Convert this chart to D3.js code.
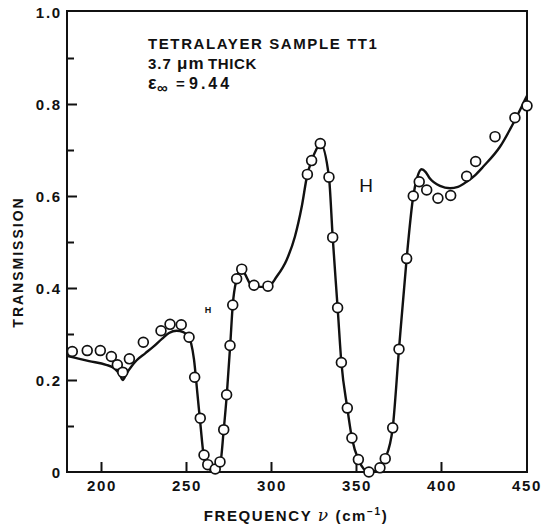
<!DOCTYPE html>
<html>
<head>
<meta charset="utf-8">
<script src="https://cdn.jsdelivr.net/npm/d3@7"></script>
<style>
  html, body { margin: 0; padding: 0; background: #fff; }
  svg { display: block; }
  text { font-family: "Liberation Sans", Arial, sans-serif; fill: #111; }
</style>
</head>
<body>
<svg id="chart" width="547" height="527"></svg>
<script>
// Measured transmission of the tetralayer sample (open circles)
const measFreq = [183.1, 191.9, 199.6, 206.1, 209.6, 212.8, 216.7, 224.9, 235.3, 240.6,
  247.2, 251.8, 255.1, 258.4, 260.6, 262.8, 267.2, 270.0, 272.2, 273.9,
  275.9, 277.5, 279.8, 282.8, 290.0, 298.2, 321.4, 323.9, 329.0, 334.1,
  336.3, 339.2, 341.4, 344.9, 347.6, 351.4, 357.6, 364.1, 367.2, 371.6,
  375.3, 379.8, 383.7, 387.2, 391.6, 398.2, 405.7, 415.1, 420.4, 431.8,
  443.5, 450.6];
const measTrans = [0.262, 0.264, 0.264, 0.251, 0.233, 0.217, 0.246, 0.282, 0.307, 0.321,
  0.320, 0.293, 0.206, 0.117, 0.037, 0.016, 0.0065, 0.022, 0.092, 0.168,
  0.275, 0.363, 0.420, 0.441, 0.406, 0.404, 0.647, 0.677, 0.714, 0.641,
  0.510, 0.357, 0.238, 0.139, 0.074, 0.027, 0.000, 0.009, 0.029, 0.096,
  0.267, 0.464, 0.600, 0.631, 0.613, 0.595, 0.601, 0.643, 0.675, 0.729,
  0.770, 0.796];

// Calculated transmission (solid curve)
const calcFreq = [180.5, 185, 193, 203, 208, 211, 212.8, 215, 218, 221,
  226, 231, 236, 240, 244.5, 248.4, 251, 253, 254.7, 256.7,
  258.6, 260.2, 262.2, 266, 270, 272.2, 274, 276, 277.5, 279.8,
  282.4, 284.5, 287.6, 290, 298, 303.4, 309.2, 314.1, 318.1, 321.4,
  323.9, 326.5, 329, 334.1, 336.3, 339.2, 341.4, 344.9, 347.6, 351.4,
  357.6, 364.1, 367.2, 371.6, 375.3, 379.8, 383.7, 386, 388.6, 391,
  393.5, 399.4, 405.3, 410, 415.1, 420, 424.9, 434.7, 443.5, 449.4, 450.6];
const calcTrans = [0.252, 0.248, 0.241, 0.233, 0.225, 0.212, 0.200, 0.214, 0.230, 0.243,
  0.258, 0.273, 0.290, 0.302, 0.307, 0.304, 0.296, 0.280, 0.245, 0.171,
  0.099, 0.041, 0.012, 0.003, 0.015, 0.092, 0.168, 0.275, 0.363, 0.420,
  0.443, 0.432, 0.410, 0.403, 0.402, 0.425, 0.461, 0.512, 0.577, 0.647,
  0.677, 0.700, 0.714, 0.641, 0.510, 0.357, 0.238, 0.139, 0.074, 0.027,
  0.000, 0.009, 0.029, 0.096, 0.267, 0.464, 0.600, 0.640, 0.658, 0.652,
  0.638, 0.622, 0.617, 0.620, 0.631, 0.645, 0.664, 0.707, 0.765, 0.809, 0.818];

const xTickValues = [200, 250, 300, 350, 400, 450];
const yMajorTicks = [0, 0.2, 0.4, 0.6, 0.8, 1.0];
const yMinorTicks = [0.1, 0.3, 0.5, 0.7, 0.9];
const yTickLabels = ["0", "0.2", "0.4", "0.6", "0.8", "1.0"];

const svg = d3.select("#chart");
const plotLeft = 67, plotRight = 527, plotTop = 12, plotBottom = 472;

const x = d3.scaleLinear().domain([180, 450.6]).range([plotLeft, plotRight]);
const y = d3.scaleLinear().domain([0, 1]).range([plotBottom, plotTop]);

// Frame
svg.append("rect")
  .attr("x", plotLeft).attr("y", plotTop - 1)
  .attr("width", plotRight - plotLeft).attr("height", plotBottom - plotTop + 1)
  .attr("fill", "none").attr("stroke", "#111").attr("stroke-width", 2);

// Bottom axis: inward ticks, labels below
const xAxis = d3.axisBottom(x).tickValues(xTickValues.filter(v => v < 450))
  .tickSize(-10).tickFormat(d3.format("d"));
const gx = svg.append("g").attr("transform", `translate(0,${plotBottom})`).call(xAxis);
gx.select(".domain").remove();
gx.selectAll(".tick line").attr("stroke", "#111").attr("stroke-width", 2);
gx.selectAll(".tick text").remove();
svg.append("g").selectAll("text").data(xTickValues).join("text")
  .attr("x", d => x(d) + 1)
  .attr("y", 491)
  .attr("text-anchor", "middle")
  .attr("font-size", 15).attr("font-weight", "bold").attr("letter-spacing", 1.6)
  .text(d => d);

// Left axis: major and minor inward ticks
const yAxisMajor = d3.axisLeft(y).tickValues(yMajorTicks.filter(v => v > 0 && v < 1))
  .tickSize(-10).tickFormat("");
const gy = svg.append("g").attr("transform", `translate(${plotLeft},0)`).call(yAxisMajor);
gy.select(".domain").remove();
gy.selectAll(".tick line").attr("stroke", "#111").attr("stroke-width", 2);
const yAxisMinor = d3.axisLeft(y).tickValues(yMinorTicks).tickSize(-7).tickFormat("");
const gym = svg.append("g").attr("transform", `translate(${plotLeft},0)`).call(yAxisMinor);
gym.select(".domain").remove();
gym.selectAll(".tick line").attr("stroke", "#111").attr("stroke-width", 2);

svg.append("g").selectAll("text").data(yMajorTicks).join("text")
  .attr("x", 62)
  .attr("y", d => y(d) + 5.5)
  .attr("text-anchor", "end")
  .attr("font-size", 15).attr("font-weight", "bold").attr("letter-spacing", 1.8)
  .text((d, i) => yTickLabels[i]);

// Axis titles
svg.append("text")
  .attr("transform", "translate(23,262) rotate(-90)")
  .attr("text-anchor", "middle")
  .attr("font-size", 14).attr("font-weight", "bold").attr("letter-spacing", 2)
  .text("TRANSMISSION");

const xt = svg.append("text")
  .attr("x", 296).attr("y", 521)
  .attr("text-anchor", "middle")
  .attr("font-size", 15).attr("font-weight", "bold").attr("letter-spacing", 1.6);
xt.append("tspan").text("FREQUENCY ");
xt.append("tspan").attr("font-style", "italic").attr("font-family", "DejaVu Serif").attr("font-weight", "normal").attr("font-size", 17).text("ν");
xt.append("tspan").text("  (cm");
xt.append("tspan").attr("font-size", 10).attr("dy", -6).text("−1");
xt.append("tspan").attr("dy", 6).text(")");

// Sample annotation
const note = svg.append("g").attr("font-size", 15).attr("font-weight", "bold");
note.append("text").attr("x", 148).attr("y", 49).attr("letter-spacing", 1.6)
  .text("TETRALAYER SAMPLE TT1");
const thick = note.append("text").attr("y", 69).attr("letter-spacing", 1);
thick.append("tspan").attr("x", 148).text("3.7");
thick.append("tspan").attr("x", 177).attr("font-size", 17).text("μm");
thick.append("tspan").attr("x", 208).attr("letter-spacing", 0.6).text("THICK");
const eps = note.append("text").attr("y", 89).attr("letter-spacing", 1);
eps.append("tspan").attr("x", 148).attr("font-size", 18).text("ε");
eps.append("tspan").attr("x", 157).attr("font-size", 15).attr("dy", 4).text("∞");
eps.append("tspan").attr("x", 176).attr("dy", -4).text("=");
eps.append("tspan").attr("x", 189).attr("font-size", 16).attr("letter-spacing", 3).text("9.44");

// Error bar markers
svg.append("text").attr("x", 208).attr("y", 313).attr("text-anchor", "middle")
  .attr("font-size", 9).attr("font-weight", "bold").text("H");
svg.append("text").attr("x", 366).attr("y", 192).attr("text-anchor", "middle")
  .attr("font-size", 19).text("H");

// Calculated curve
const calc = calcFreq.map((f, i) => [f, calcTrans[i]]);
const line = d3.line().x(d => x(d[0])).y(d => y(d[1])).curve(d3.curveMonotoneX);
svg.append("path").datum(calc)
  .attr("d", line)
  .attr("fill", "none").attr("stroke", "#111").attr("stroke-width", 2.4)
  .attr("stroke-linejoin", "round");

// Measured points
const meas = measFreq.map((f, i) => [f, measTrans[i]]);
svg.append("g").selectAll("circle").data(meas).join("circle")
  .attr("cx", d => x(d[0]))
  .attr("cy", d => y(d[1]))
  .attr("r", 4.9)
  .attr("fill", "#fff").attr("stroke", "#111").attr("stroke-width", 1.7);
</script>
</body>
</html>
